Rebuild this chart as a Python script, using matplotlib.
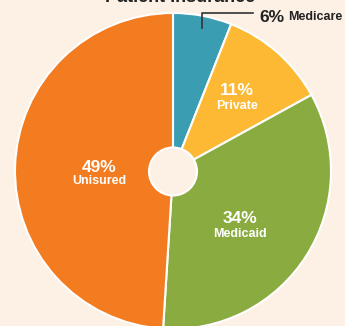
import matplotlib
matplotlib.use("Agg")
import matplotlib.pyplot as plt
from matplotlib.patches import Circle

categories = ["Medicare", "Private", "Medicaid", "Unisured"]
values = [6, 11, 34, 49]
colors = ["#3a9db2", "#fdb933", "#8aab3f", "#f47c20"]
title = "Patient Insurance"

fam = "Liberation Sans"
BG = "#fdf0e4"
W, H = 345, 326
fig = plt.figure(figsize=(W / 100, H / 100), dpi=100, facecolor=BG)
ax = fig.add_axes([0, 0, 1, 1])
ax.set_facecolor(BG)

cx, cy, r = 173, H - 171, 158
ax.pie(values, colors=colors, startangle=90, counterclock=False,
       center=(cx, cy), radius=r, frame=True,
       wedgeprops=dict(edgecolor="white", linewidth=1.5))
ax.set_xlim(0, W)
ax.set_ylim(0, H)
ax.axis("off")
ax.add_patch(Circle((173, H - 171.5), 24, facecolor=BG, edgecolor="white",
                    linewidth=1.5, zorder=5))

def lab(x, y_pct, y_name, pct, name):
    ax.text(x, H - y_pct, f"{pct}%", ha="center", va="baseline", color="white",
            fontsize=12.5, fontweight="bold", family=fam, zorder=6)
    ax.text(x, H - y_name, name, ha="center", va="baseline", color="white",
            fontsize=9, fontweight="bold", family=fam, zorder=6)

lab(99.5, 172, 184, values[3], categories[3])
lab(240, 223, 237, values[2], categories[2])
lab(237, 95, 109, values[1], categories[1])

ax.plot([202, 202, 253], [H - 28, H - 13, H - 13], color="#333333", lw=1.2, zorder=6)
ax.text(259, H - 22, f"{values[0]}%", ha="left", va="baseline", color="#222222",
        fontsize=12.5, fontweight="bold", family=fam)
ax.text(288, H - 20.5, categories[0], ha="left", va="baseline", color="#222222",
        fontsize=9, fontweight="bold", family=fam)

ax.text(180, H - 2, title, ha="center", va="baseline", color="#222222",
        fontsize=13, fontweight="bold", family=fam, clip_on=False)

fig.savefig("out.png", dpi=100, facecolor=BG)
